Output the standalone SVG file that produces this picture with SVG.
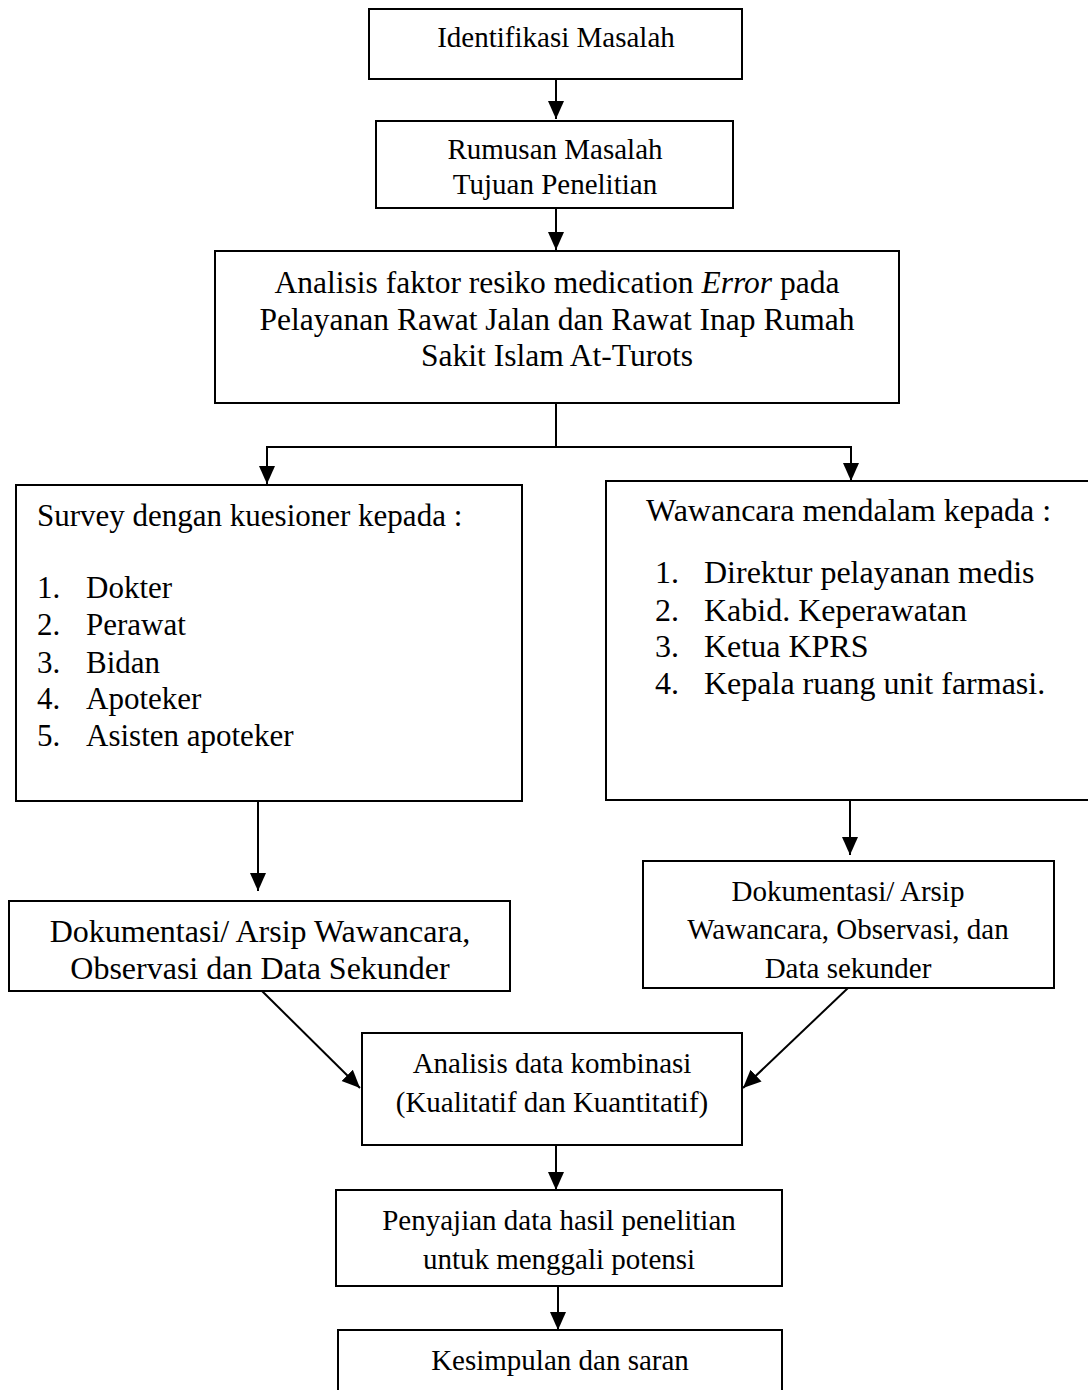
<svg xmlns="http://www.w3.org/2000/svg" width="1088" height="1390" viewBox="0 0 1088 1390">
<style>
rect.box { fill: #ffffff; stroke: #000000; stroke-width: 2; }
text { font-family: "Liberation Serif", "Times New Roman", serif; fill: #000000; }
.c { text-anchor: middle; }
.f29 { font-size: 29px; }
.f31 { font-size: 31px; }
.f32 { font-size: 32px; }
.conn line, .conn polyline { stroke: #000000; stroke-width: 2; fill: none; }
</style>
<defs>
<marker id="ah" markerUnits="userSpaceOnUse" markerWidth="18" markerHeight="18" viewBox="0 0 18 16" refX="18" refY="8" orient="auto">
<path d="M0,0 L18,8 L0,16 Z" fill="#000000"/>
</marker>
</defs>
<rect x="0" y="0" width="1088" height="1390" fill="#ffffff"/>

<g id="connectors" class="conn">
<line x1="556" y1="79" x2="556" y2="119" marker-end="url(#ah)"/>
<line x1="556" y1="208" x2="556" y2="250" marker-end="url(#ah)"/>
<line x1="556" y1="403" x2="556" y2="447"/>
<polyline points="267,483 267,447 851,447 851,480"/>
<line x1="267" y1="460" x2="267" y2="484" marker-end="url(#ah)"/>
<line x1="851" y1="460" x2="851" y2="481" marker-end="url(#ah)"/>
<line x1="258" y1="801" x2="258" y2="891" marker-end="url(#ah)"/>
<line x1="850" y1="800" x2="850" y2="855" marker-end="url(#ah)"/>
<line x1="262" y1="991" x2="360" y2="1088" marker-end="url(#ah)"/>
<line x1="848" y1="988" x2="743" y2="1088" marker-end="url(#ah)"/>
<line x1="556" y1="1145" x2="556" y2="1190" marker-end="url(#ah)"/>
<line x1="558" y1="1286" x2="558" y2="1330" marker-end="url(#ah)"/>
</g>

<g id="n1">
<rect class="box" x="369" y="9" width="373" height="70"/>
<text class="c f29" x="556" y="47">Identifikasi Masalah</text>
</g>

<g id="n2">
<rect class="box" x="376" y="121" width="357" height="87"/>
<text class="c f29" x="555" y="159">Rumusan Masalah</text>
<text class="c f29" x="555" y="194">Tujuan Penelitian</text>
</g>

<g id="n3">
<rect class="box" x="215" y="251" width="684" height="152"/>
<text class="c" style="font-size:31.5px" x="557" y="293">Analisis faktor resiko medication <tspan font-style="italic">Error</tspan> pada</text>
<text class="c" style="font-size:31.5px" x="557" y="330">Pelayanan Rawat Jalan dan Rawat Inap Rumah</text>
<text class="c" style="font-size:31.5px" x="557" y="366">Sakit Islam At-Turots</text>
</g>

<g id="n4">
<rect class="box" x="16" y="485" width="506" height="316"/>
<text class="f31" x="37" y="526">Survey dengan kuesioner kepada :</text>
<text class="f31" x="37" y="598">1.</text><text class="f31" x="86" y="598">Dokter</text>
<text class="f31" x="37" y="635">2.</text><text class="f31" x="86" y="635">Perawat</text>
<text class="f31" x="37" y="673">3.</text><text class="f31" x="86" y="673">Bidan</text>
<text class="f31" x="37" y="709">4.</text><text class="f31" x="86" y="709">Apoteker</text>
<text class="f31" x="37" y="746">5.</text><text class="f31" x="86" y="746">Asisten apoteker</text>
</g>

<g id="n5">
<rect class="box" x="606" y="481" width="490" height="319"/>
<text class="f32" x="646" y="521">Wawancara mendalam kepada :</text>
<text class="f32" x="655" y="583">1.</text><text class="f32" x="704" y="583">Direktur pelayanan medis</text>
<text class="f32" x="655" y="621">2.</text><text class="f32" x="704" y="621">Kabid. Keperawatan</text>
<text class="f32" x="655" y="657">3.</text><text class="f32" x="704" y="657">Ketua KPRS</text>
<text class="f32" x="655" y="694">4.</text><text class="f32" x="704" y="694">Kepala ruang unit farmasi.</text>
</g>

<g id="n6">
<rect class="box" x="9" y="901" width="501" height="90"/>
<text class="c f32" x="260" y="942">Dokumentasi/ Arsip Wawancara,</text>
<text class="c f32" x="260" y="979">Observasi dan Data Sekunder</text>
</g>

<g id="n7">
<rect class="box" x="643" y="861" width="411" height="127"/>
<text class="c f29" x="848" y="901">Dokumentasi/ Arsip</text>
<text class="c f29" x="848" y="939">Wawancara, Observasi, dan</text>
<text class="c f29" x="848" y="978">Data sekunder</text>
</g>

<g id="n8">
<rect class="box" x="362" y="1033" width="380" height="112"/>
<text class="c f29" x="552" y="1073">Analisis data kombinasi</text>
<text class="c f29" x="552" y="1112">(Kualitatif dan Kuantitatif)</text>
</g>

<g id="n9">
<rect class="box" x="336" y="1190" width="446" height="96"/>
<text class="c f29" x="559" y="1230">Penyajian data hasil penelitian</text>
<text class="c f29" x="559" y="1269">untuk menggali potensi</text>
</g>

<g id="n10">
<rect class="box" x="338" y="1330" width="444" height="80"/>
<text class="c f29" x="560" y="1370">Kesimpulan dan saran</text>
</g>
</svg>
